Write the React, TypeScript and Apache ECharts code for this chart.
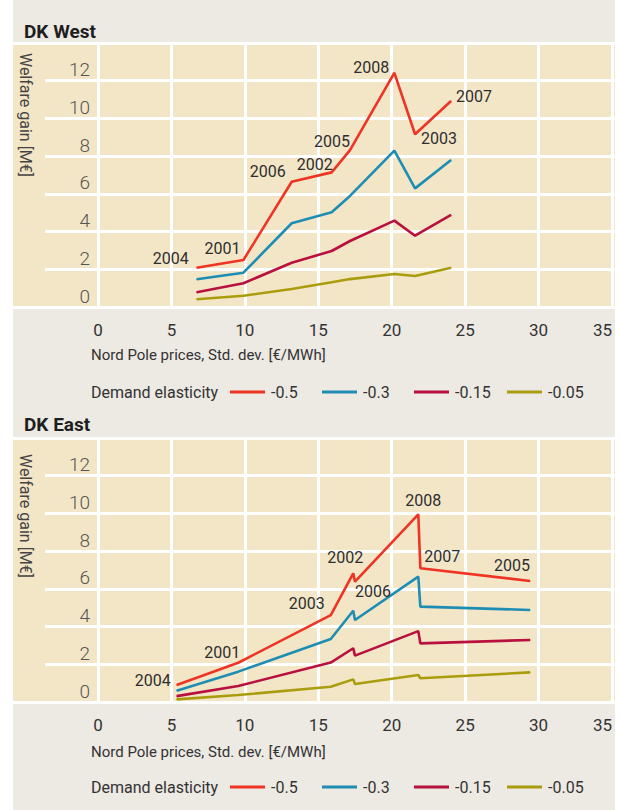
import React, { useEffect, useRef } from "react";
import * as echarts from "echarts";

// ---- Data ----
const seriesNames = ["-0.5", "-0.3", "-0.15", "-0.05"];

// DK West: std. dev. of Nord Pool prices per year
const westYears = ["2004", "2001", "2006", "2002", "2005", "2008", "2003", "2007"];
const westX = [6.72, 9.9, 13.19, 15.91, 17.16, 20.18, 21.59, 24.04];
const westRed = [2.08, 2.49, 6.64, 7.14, 8.32, 12.42, 9.16, 10.92];
const westBlue = [1.47, 1.82, 4.44, 5.02, 5.89, 8.29, 6.29, 7.79];
const westCrimson = [0.78, 1.26, 2.35, 2.97, 3.5, 4.58, 3.78, 4.88];
const westOlive = [0.41, 0.6, 0.95, 1.31, 1.48, 1.75, 1.64, 2.08];

// DK East
const eastYears = ["2004", "2001", "2003", "2002", "2006", "2008", "2007", "2005"];
const eastX = [5.36, 9.55, 15.85, 17.38, 17.5, 21.81, 21.95, 29.42];
const eastRed = [0.9, 2.08, 4.61, 6.82, 6.38, 9.95, 7.09, 6.42];
const eastBlue = [0.6, 1.61, 3.34, 4.84, 4.35, 6.65, 5.06, 4.88];
const eastCrimson = [0.31, 0.85, 2.09, 2.85, 2.46, 3.76, 3.11, 3.29];
const eastOlive = [0.14, 0.37, 0.81, 1.2, 0.95, 1.43, 1.26, 1.57];

// Axis settings
const xMin = 0;
const xMax = 35;
const xStep = 5;
const yMin = 0;
const yMax = 14;
const yStep = 2;

// ---- Styles ----
const colors = ["#EE3424", "#1E8DB3", "#B8103F", "#A99D0E"];
const westLabelOffsets = [[-26, -9], [-21, -12], [-24, -10], [-17, -8], [-18, -9], [-23, -5], [24, 4], [23, -5]];
const eastLabelOffsets = [[-24, -5], [-16, -10], [-24, -12], [-8, -16], [18, 10], [5, -14], [22, -12], [-18, -15]];
const FONT = "Roboto, 'Noto Sans', sans-serif";
const GRAY = "#EDE9E3";
const BEIGE = "#F3E6C7";

export default function App() {
  const ref = useRef<HTMLDivElement>(null);

  useEffect(() => {
    if (!ref.current) return;
    const chart = echarts.init(ref.current, undefined, { renderer: "svg" });

    const panels = [
      {
        title: "DK West",
        top: 43,
        years: westYears,
        xs: westX,
        ys: [westRed, westBlue, westCrimson, westOlive],
        offsets: westLabelOffsets,
        titleY: 31,
        nameY: 115,
        xNameY: 355,
        legendY: 392,
      },
      {
        title: "DK East",
        top: 438,
        years: eastYears,
        xs: eastX,
        ys: [eastRed, eastBlue, eastCrimson, eastOlive],
        offsets: eastLabelOffsets,
        titleY: 424,
        nameY: 516,
        xNameY: 752,
        legendY: 787,
      },
    ];

    const plotH = 264;
    const grids: any[] = [];
    const xAxes: any[] = [];
    const yAxes: any[] = [];
    const series: any[] = [];
    const legends: any[] = [];
    const graphics: any[] = [
      { type: "rect", shape: { x: 0, y: 0, width: 13, height: 810 }, style: { fill: "#ffffff" }, z: 100 },
      { type: "rect", shape: { x: 615, y: 0, width: 6, height: 810 }, style: { fill: "#ffffff" }, z: 100 },
    ];

    const whiteLine = { show: true, lineStyle: { color: "#ffffff", width: 3 } };

    panels.forEach((p) => {
      const base = grids.length;
      // frame grid (beige background, top and bottom white lines)
      grids.push({ left: 13, right: 6, top: p.top, height: plotH, show: true, backgroundColor: BEIGE, borderWidth: 0 });
      // extended horizontal grid lines
      grids.push({ left: 45, right: 6, top: p.top, height: plotH });
      // data grid
      grids.push({ left: 98, right: 9, top: p.top, height: plotH });

      // frame axes
      xAxes.push({ gridIndex: base, type: "value", min: xMin, max: xMax, show: false });
      yAxes.push({
        gridIndex: base, type: "value", min: yMin, max: yMax, interval: yMax - yMin,
        axisLine: { show: false }, axisTick: { show: false }, axisLabel: { show: false }, splitLine: whiteLine,
      });
      // extended lines axes
      xAxes.push({ gridIndex: base + 1, type: "value", min: xMin, max: xMax, show: false });
      yAxes.push({
        gridIndex: base + 1, type: "value", min: yMin, max: yMax, interval: yStep,
        axisLine: { show: false }, axisTick: { show: false }, axisLabel: { show: false }, splitLine: whiteLine,
      });
      // data axes
      xAxes.push({
        gridIndex: base + 2, type: "value", min: xMin, max: xMax, interval: xStep,
        axisLine: { show: false }, axisTick: { show: false },
        axisLabel: { margin: 14, fontSize: 17, color: "#333", fontFamily: FONT, alignMaxLabel: "right" },
        splitLine: whiteLine,
      });
      yAxes.push({
        gridIndex: base + 2, type: "value", min: yMin, max: yMax, interval: yStep,
        axisLine: { show: false }, axisTick: { show: false },
        axisLabel: {
          margin: 8, fontSize: 19, fontWeight: 300, color: "#555", fontFamily: FONT,
          verticalAlign: "bottom", lineHeight: 22,
          formatter: (v: number) => (v === yMax ? "" : String(v)),
        },
        splitLine: { show: false },
      });

      p.ys.forEach((vals, si) => {
        const isRed = si === 0;
        series.push({
          name: seriesNames[si],
          type: "line",
          xAxisIndex: base + 2,
          yAxisIndex: base + 2,
          symbol: "circle",
          symbolSize: 1,
          showSymbol: true,
          z: 10 - si,
          color: colors[si],
          itemStyle: { color: colors[si] },
          lineStyle: { color: colors[si], width: 2.6 },
          label: isRed
            ? { show: true, position: "inside", formatter: "{b}", fontSize: 16, color: "#2e2e2e", fontFamily: FONT }
            : { show: false },
          data: vals.map((v, i) =>
            isRed
              ? { name: p.years[i], value: [p.xs[i], v], label: { offset: p.offsets[i] } }
              : { name: p.years[i], value: [p.xs[i], v] }
          ),
        });
      });

      const legendLefts = [230, 322, 414, 507];
      seriesNames.forEach((n, si) => {
        legends.push({
          data: [n],
          left: legendLefts[si],
          top: p.legendY - 9,
          padding: 0,
          itemGap: 0,
          itemWidth: 35,
          itemHeight: 3,
          icon: "rect",
          selectedMode: false,
          textStyle: { fontSize: 16, color: "#333", fontFamily: FONT, lineHeight: 18, padding: [0, 0, 0, 1] },
        });
      });

      graphics.push(
        {
          type: "text", x: 24, y: p.titleY,
          style: { text: p.title, font: `bold 19px ${FONT}`, fill: "#1e1e1e", verticalAlign: "middle" },
        },
        {
          type: "text", x: 25, y: p.nameY, rotation: -Math.PI / 2,
          style: { text: "Welfare gain [M€]", font: `16px ${FONT}`, fill: "#444", align: "center", verticalAlign: "middle" },
        },
        {
          type: "text", x: 91, y: p.xNameY,
          style: { text: "Nord Pole prices, Std. dev. [€/MWh]", font: `15px ${FONT}`, fill: "#333", verticalAlign: "middle" },
        },
        {
          type: "text", x: 91, y: p.legendY,
          style: { text: "Demand elasticity", font: `16px ${FONT}`, fill: "#333", verticalAlign: "middle" },
        }
      );
    });

    chart.setOption({
      animation: false,
      backgroundColor: GRAY,
      grid: grids,
      xAxis: xAxes,
      yAxis: yAxes,
      legend: legends,
      series,
      graphic: graphics,
    });

    return () => chart.dispose();
  }, []);

  return <div ref={ref} style={{ position: "absolute", left: 0, top: 0, width: 621, height: 810 }} />;
}
